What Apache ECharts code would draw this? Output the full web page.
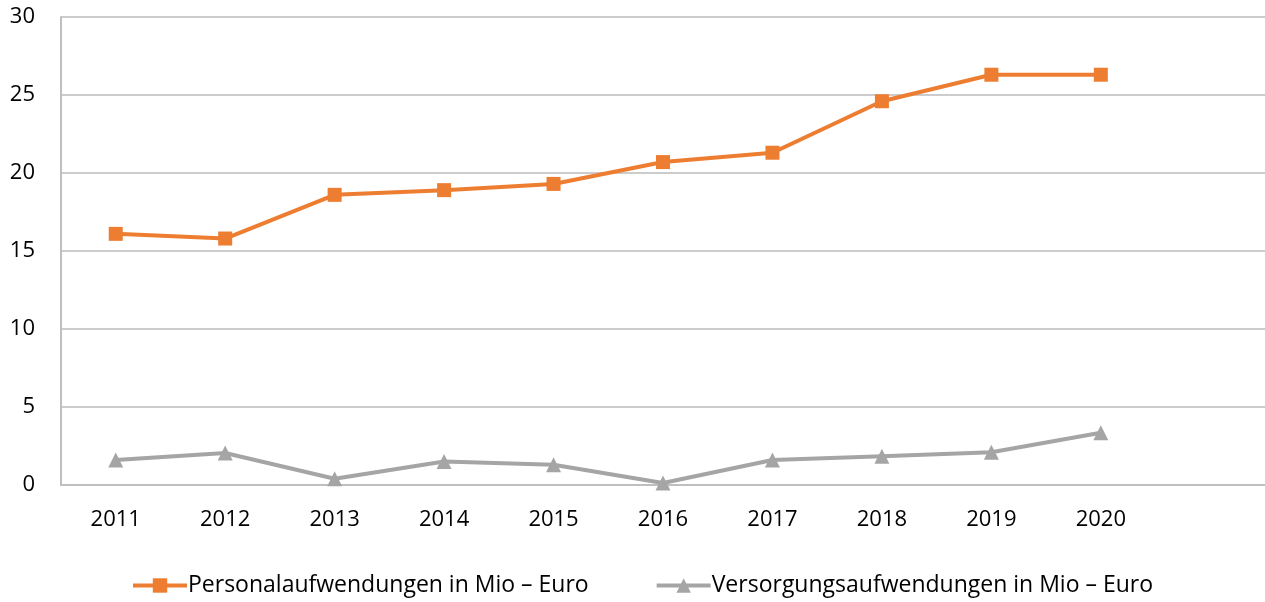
<!DOCTYPE html>
<html><head><meta charset="utf-8">
<script src="https://cdn.jsdelivr.net/npm/echarts@6/dist/echarts.min.js"></script>
<style>html,body{margin:0;padding:0;background:#fff}#c{width:1265px;height:602px}</style>
</head><body><div id="c"></div>
<script>
const categories = ['2011','2012','2013','2014','2015','2016','2017','2018','2019','2020',''];
const personal = [16.1, 15.8, 18.6, 18.9, 19.3, 20.7, 21.3, 24.6, 26.3, 26.3];
const versorgung = [1.6, 2.05, 0.4, 1.5, 1.3, 0.13, 1.6, 1.85, 2.1, 3.35];
const yTicks = [0, 5, 10, 15, 20, 25, 30];
const seriesNames = ['Personalaufwendungen in Mio – Euro', 'Versorgungsaufwendungen in Mio – Euro'];

const font = 'Open Sans';
const chart = echarts.init(document.getElementById('c'));
chart.setOption({
  animation: false,
  grid: { left: 61, top: 17, width: 1208, height: 468, containLabel: false },
  legend: {
    bottom: 0, left: 126,
    itemWidth: 54, itemHeight: 18, itemGap: 66,
    lineStyle: { width: 4 },
    textStyle: { fontFamily: font, fontSize: 23, color: '#000', padding: [0,0,0,-4] },
    data: [ seriesNames[0], seriesNames[1] ]
  },
  xAxis: {
    type: 'category', data: categories, boundaryGap: true,
    axisLine: { lineStyle: { color: '#BFBFBF', width: 2 } },
    axisTick: { show: false },
    axisLabel: { fontFamily: font, fontSize: 22, color: '#000', margin: 24 }
  },
  yAxis: {
    type: 'value', min: yTicks[0], max: yTicks[yTicks.length-1], interval: 5,
    axisLine: { show: true, lineStyle: { color: '#BFBFBF', width: 2 } },
    axisTick: { show: false },
    splitLine: { lineStyle: { color: '#CCCCCC', width: 2 } },
    axisLabel: { fontFamily: font, fontSize: 22, color: '#000', margin: 26 }
  },
  series: [
    { name: seriesNames[0], type: 'line', data: personal,
      symbol: 'rect', symbolSize: 14,
      lineStyle: { color: '#ED7D31', width: 4 },
      itemStyle: { color: '#ED7D31' } },
    { name: seriesNames[1], type: 'line', data: versorgung,
      symbol: 'triangle', symbolSize: 15,
      lineStyle: { color: '#A5A5A5', width: 4 },
      itemStyle: { color: '#A5A5A5' } }
  ]
});
</script></body></html>
